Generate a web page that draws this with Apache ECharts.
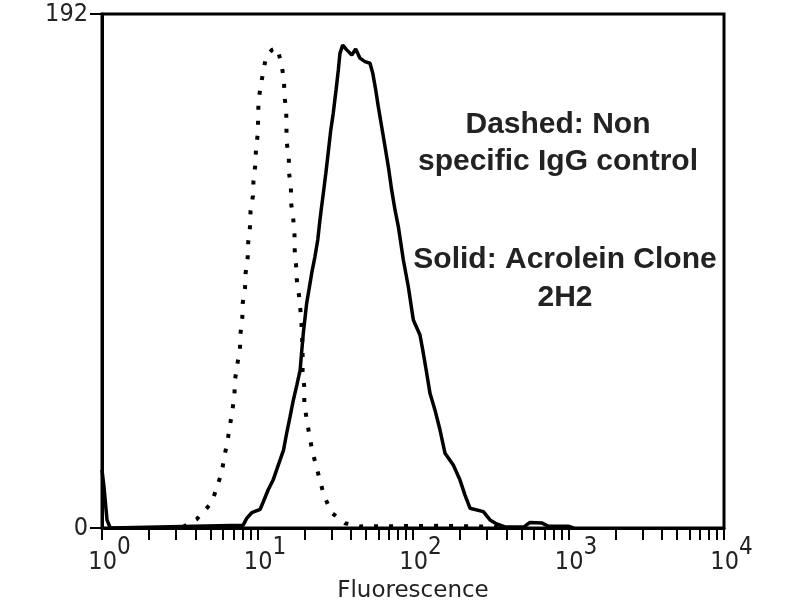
<!DOCTYPE html>
<html><head><meta charset="utf-8">
<script src="https://cdn.jsdelivr.net/npm/echarts@6/dist/echarts.min.js"></script>
<style>html,body{margin:0;padding:0;background:#fff}#c{width:800px;height:600px}</style>
</head><body><div id="c"></div>
<script>
const xDecades = [1, 10, 100, 1000, 10000];
const yTicks = [0, 192];
const xAxisName = 'Fluorescence';
const annotationDashed = ['Dashed: Non', 'specific IgG control'];
const annotationSolid = ['Solid: Acrolein Clone', '2H2'];

const solidData = [
  [1.00,21.7],[1.03,15.3],[1.077,3],[1.13,0],[8.07,1],[8.52,3.6],[9.18,5.7],[10.4,7],[10.9,9.8],
  [11.7,14.2],[12.6,17.9],[13.6,23.5],[14.7,29.1],[15.4,35.4],[16.2,41.6],[17.0,47.8],[17.9,53.4],
  [18.8,59.0],[19.2,65.3],[19.7,72.7],[20.2,78.3],[20.7,83.9],[21.5,89.5],[22.3,95.1],[23.4,101.3],
  [24.4,107.6],[25.0,113.2],[25.6,118.2],[26.5,125.0],[27.5,132.5],[28.3,138.7],[29.6,148.7],
  [30.7,154.9],[32.0,163.6],[33.1,171.1],[33.9,177.3],[35.3,180.4],[37.5,178.6],[40.4,176.7],
  [42.8,178.9],[45.6,175.5],[49.1,174.2],[52.9,173.6],[55.1,169.9],[57.6,163.6],[59.8,157.4],
  [62.9,149.9],[66.1,142.4],[69.4,135.0],[72.9,126.3],[76.6,118.8],[80.5,112.6],[86.7,100.1],
  [93.3,90.1],[100.5,77.7],[110.9,72.1],[116.5,65.3],[122.5,57.8],[128.6,50.3],[138.4,44.1],
  [149.2,36.6],[160.7,27.9],[181.6,23.5],[200.6,17.9],[216,12.3],[232.6,7.4],[283.3,6.1],
  [312.8,3.0],[345.3,1.5],[390.6,0.4],[520,0.5],[565,2.1],[672,1.9],[738,0.7],[993,0.7],[1080,0]
];

const dashedData = [
  [3.32,0.4],[4.08,3.4],[5.08,9.5],[5.47,15.1],[5.89,20.8],[6.12,26.6],[6.40,32.2],[6.63,37.8],
  [6.89,43.8],[7.10,49.4],[7.17,55.3],[7.41,61.1],[7.71,66.7],[7.77,72.5],[7.98,78.2],[8.03,83.9],
  [8.31,89.5],[8.39,95.3],[8.65,101.1],[8.72,106.9],[8.95,112.6],[9.02,118.4],[9.35,124.1],
  [9.42,129.7],[9.68,135.6],[9.78,141.5],[10.03,147.1],[10.1,152.8],[10.14,158.6],[10.42,164.3],
  [10.85,169.9],[11.35,176.1],[12.4,178.6],[13.4,179.3],[14.3,173],[14.8,167.1],[14.9,161.5],
  [15.3,155.7],[15.35,149.9],[15.4,144.2],[15.9,138.3],[15.95,132.7],[16.4,127.1],[16.45,121.3],
  [17.0,115.1],[17.3,109.5],[17.35,103.8],[17.7,98.2],[17.9,92.6],[18.5,86.7],[18.9,81.1],
  [19.2,75.5],[19.4,69.9],[19.5,64.3],[19.5,58.4],[20.0,52.6],[20.0,46.6],[20.7,40.7],[21.5,35.1],
  [22.4,29.4],[23.8,23.3],[25.2,17.9],[26.8,12.0],[30.0,5.7],[36.5,1.8],[45.6,0.6],[150,0.8],
  [320,0.5],[400,0]
];

const minorTicks = [];
xDecades.forEach((d, i) => {
  if (i < xDecades.length - 1) { for (let k = 1; k < 10; k++) minorTicks.push(d * k); }
  else minorTicks.push(d);
});

const tickFont = 'DejaVu Sans Condensed';
const chart = echarts.init(document.getElementById('c'), null, {renderer: 'canvas'});
chart.setOption({
  animation: false,
  backgroundColor: '#fff',
  grid: {left: 102, right: 76, top: 14, bottom: 72, containLabel: false, outerBoundsMode: 'none',
         show: true, borderColor: '#000', borderWidth: 3, backgroundColor: 'transparent'},
  xAxis: {
    type: 'log', logBase: 10, min: xDecades[0], max: xDecades[xDecades.length - 1],
    name: xAxisName, nameLocation: 'middle', nameGap: 46,
    nameTextStyle: {fontFamily: 'DejaVu Sans', fontSize: 23, color: '#222'},
    axisLine: {show: true, lineStyle: {color: '#000', width: 3}},
    axisTick: {show: true, inside: false, length: 12, lineStyle: {color: '#000', width: 2}, customValues: minorTicks},
    minorTick: {show: false},
    splitLine: {show: false},
    axisLabel: {
      show: true, margin: 8, customValues: xDecades,
      formatter: v => '{b|10}{s|' + Math.round(Math.log10(v)) + '}',
      rich: {
        b: {fontFamily: tickFont, fontSize: 25, color: '#222', padding: [14, 0, 0, 15], verticalAlign: 'bottom'},
        s: {fontFamily: tickFont, fontSize: 24, color: '#222', verticalAlign: 'top'}
      }
    }
  },
  yAxis: {
    type: 'value', min: yTicks[0], max: yTicks[1], interval: yTicks[1] - yTicks[0],
    axisLine: {show: true, lineStyle: {color: '#000', width: 3}},
    axisTick: {show: true, inside: false, length: 12, lineStyle: {color: '#000', width: 2}},
    splitLine: {show: false},
    axisLabel: {show: true, margin: 14, fontFamily: tickFont, fontSize: 25, color: '#222'}
  },
  series: [
    {type: 'line', data: solidData, showSymbol: false, symbol: 'none', lineStyle: {color: '#000', width: 3.5}, z: 3},
    {type: 'line', data: dashedData, showSymbol: false, symbol: 'none', lineStyle: {color: '#000', width: 4, type: [4, 11]}, z: 2}
  ],
  graphic: [
    {type: 'text', x: 558, y: 143, style: {text: annotationDashed.join('\n'), font: 'bold 30px "Liberation Sans"', fill: '#222', align: 'center', verticalAlign: 'middle', lineHeight: 37}},
    {type: 'text', x: 565, y: 279, style: {text: annotationSolid.join('\n'), font: 'bold 30px "Liberation Sans"', fill: '#222', align: 'center', verticalAlign: 'middle', lineHeight: 38}}
  ]
});
</script>
</body></html>
